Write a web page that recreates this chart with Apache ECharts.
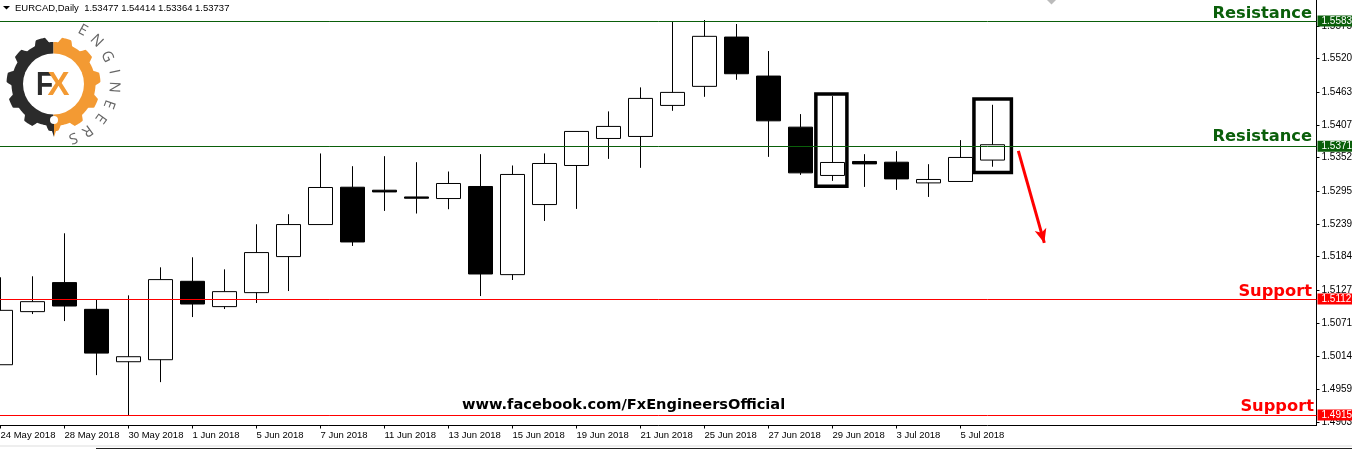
<!DOCTYPE html>
<html><head><meta charset="utf-8">
<style>html,body{margin:0;padding:0;background:#fff;overflow:hidden}#c{width:1352px;height:449px}</style>
<script src="https://cdn.jsdelivr.net/npm/echarts@6/dist/echarts.min.js"></script>
</head><body><div id="c"></div>
<script>
const dates = ['24 May 2018','25 May 2018','28 May 2018','29 May 2018','30 May 2018','31 May 2018','1 Jun 2018','4 Jun 2018','5 Jun 2018','6 Jun 2018','7 Jun 2018','8 Jun 2018','11 Jun 2018','12 Jun 2018','13 Jun 2018','14 Jun 2018','15 Jun 2018','18 Jun 2018','19 Jun 2018','20 Jun 2018','21 Jun 2018','22 Jun 2018','25 Jun 2018','26 Jun 2018','27 Jun 2018','28 Jun 2018','29 Jun 2018','2 Jul 2018','3 Jul 2018','4 Jul 2018','5 Jul 2018','6 Jul 2018'];
const opens  = [1.50008,1.50908,1.51400,1.50947,1.50059,1.50093,1.51422,1.50993,1.51230,1.51841,1.52384,1.53017,1.52966,1.52852,1.52825,1.53029,1.51535,1.52723,1.53385,1.53843,1.53877,1.54403,1.54726,1.55562,1.54901,1.54035,1.53216,1.53453,1.53441,1.53090,1.53114,1.53477];
const closes = [1.50930,1.51077,1.51003,1.50205,1.50144,1.51451,1.51037,1.51247,1.51909,1.52384,1.53012,1.52089,1.52937,1.52830,1.53080,1.51546,1.53233,1.53419,1.53962,1.54047,1.54522,1.54624,1.55574,1.54940,1.54142,1.53260,1.53436,1.53412,1.53158,1.53148,1.53521,1.53737];
const lows   = [1.50008,1.50867,1.50748,1.49832,1.49143,1.49713,1.50816,1.50952,1.51054,1.51257,1.52384,1.52021,1.52615,1.52571,1.52644,1.51172,1.51444,1.52445,1.52649,1.53497,1.53345,1.54312,1.54549,1.54838,1.53531,1.53226,1.53124,1.53022,1.52971,1.52852,1.53114,1.53364];
const highs  = [1.51490,1.51507,1.52236,1.51105,1.51184,1.51659,1.51829,1.51625,1.52389,1.52559,1.53589,1.53373,1.53543,1.53441,1.53283,1.53577,1.53385,1.53589,1.53962,1.54302,1.54709,1.55822,1.55851,1.55783,1.55325,1.54256,1.54561,1.53577,1.53628,1.53407,1.53815,1.54414];
const yTicks = [1.55750,1.55200,1.54630,1.54075,1.53520,1.52950,1.52395,1.51840,1.51270,1.50715,1.50145,1.49590,1.49035];
const xTicks = [0,2,4,6,8,10,12,14,16,18,20,22,24,26,28,30];
const xTickLabels = ['24 May 2018','28 May 2018','30 May 2018','1 Jun 2018','5 Jun 2018','7 Jun 2018','11 Jun 2018','13 Jun 2018','15 Jun 2018','19 Jun 2018','21 Jun 2018','25 Jun 2018','27 Jun 2018','29 Jun 2018','3 Jul 2018','5 Jul 2018'];
const resistanceLevels = [1.55834,1.53712];
const supportLevels = [1.51121,1.49155];
const boxes = [[[25.48,1.54595],[26.45,1.53032]],[[30.42,1.54510],[31.59,1.53265]]];
const arrow = [[31.807,1.53633],[32.619,1.52072]];
const header = 'EURCAD,Daily  1.53477 1.54414 1.53364 1.53737';
const url = 'www.facebook.com/FxEngineersOfficial';
const logoWord = 'ENGINEERS';
const logoAngles = [28.6,45,63,78.5,93,110,126,144,160];
const logoRadii = [61,61,60,61.5,60.5,59,58,57.6,57];

const GREEN='#0a5f0a', RED='#ff0000', FONT='"Liberation Sans",Arial,sans-serif', LOGOX=53.5, LOGOY=84;

function gearPts(from,to){
  const pts=[[LOGOX,LOGOY]], n=11;
  for(let a=from;a<=to+0.001;a+=1){
    const t=((a%(360/n))+360/n)%(360/n)/(360/n);
    const d=Math.min(Math.abs(t-0.5),0.5);
    const r=d<0.18?47:(d>0.3?42:47-(d-0.18)/0.12*5);
    const rad=(a-90)*Math.PI/180;
    pts.push([LOGOX+r*Math.cos(rad),LOGOY+r*Math.sin(rad)]);
  }
  return pts;
}
const logo=[
  {type:'polygon',shape:{points:gearPts(180,360)},style:{fill:'#2b2b2b'}},
  {type:'polygon',shape:{points:gearPts(0,180)},style:{fill:'#f39a33'}},
  {type:'polygon',shape:{points:[[49,122],[54,122],[54,137]]},style:{fill:'#2b2b2b'}},
  {type:'polygon',shape:{points:[[54,122],[59,122],[54,137]]},style:{fill:'#f39a33'}},
  {type:'circle',shape:{cx:LOGOX,cy:LOGOY,r:30.5},style:{fill:'#fff'}},
  {type:'circle',shape:{cx:LOGOX+.5,cy:120,r:4},style:{fill:'#fff'}},
  {type:'text',x:36,y:69,scaleX:.85,style:{text:'F',fill:'#2b2b2b',font:'bold 33px "Liberation Sans"'}},
  {type:'text',x:47.5,y:69,scaleX:1,style:{text:'X',fill:'#f39a33',font:'bold 33px "Liberation Sans"'}}
];
logoWord.split('').forEach((ch,i)=>{
  const a=logoAngles[i]*Math.PI/180, r=logoRadii[i];
  logo.push({type:'text',x:LOGOX+r*Math.sin(a),y:LOGOY-r*Math.cos(a),rotation:-a,
    style:{text:ch,align:'center',verticalAlign:'middle',fill:'#666',font:'15px "Open Sans"'}});
});

const levelLine=(v,color)=>({yAxis:v,lineStyle:{color,width:1,type:'solid'},symbol:'none',
  label:{show:true,position:'end',distance:1,formatter:v.toFixed(5),color:'#fff',backgroundColor:color,
    fontFamily:FONT,fontSize:10,padding:[1,2,0,4],width:34,align:'left',overflow:'none'}});

const chart=echarts.init(document.getElementById('c'),null,{renderer:'canvas'});
chart.setOption({
  animation:false,backgroundColor:'#fff',
  title:{text:header,left:15,top:3,padding:0,textStyle:{fontFamily:FONT,fontSize:9.5,fontWeight:'normal',color:'#000'}},
  grid:{left:0,right:35.5,top:0,bottom:23.5,outerBoundsMode:'none',containLabel:false},
  xAxis:{type:'value',min:-0.015625,max:41.125,splitLine:{show:false},
    axisLine:{onZero:false,lineStyle:{color:'#000',width:1}},
    axisTick:{show:true,length:3,customValues:xTicks,lineStyle:{color:'#000'}},
    axisLabel:{customValues:xTicks,align:'left',margin:5,color:'#000',fontFamily:FONT,fontSize:9.5,hideOverlap:false,
      formatter:v=>xTickLabels[xTicks.indexOf(v)]||''}},
  yAxis:{type:'value',position:'right',min:1.48978,max:1.5619,scale:true,splitLine:{show:false},
    axisLine:{show:true,onZero:false,lineStyle:{color:'#000',width:1}},
    axisTick:{show:true,length:3,customValues:yTicks,lineStyle:{color:'#000'}},
    axisLabel:{customValues:yTicks,margin:5,color:'#000',fontFamily:FONT,fontSize:10,hideOverlap:false,
      formatter:v=>v.toFixed(5)}},
  series:[{type:'candlestick',barWidth:24,clip:true,
    encode:{x:0,y:[1,2,3,4]},
    data:dates.map((d,i)=>[i,opens[i],closes[i],lows[i],highs[i]]),
    itemStyle:{color:'#fff',color0:'#000',borderColor:'#000',borderColor0:'#000',borderWidth:1},
    markLine:{silent:true,animation:false,symbol:'none',precision:5,
      data:[...resistanceLevels.map(v=>levelLine(v,GREEN)),...supportLevels.map(v=>levelLine(v,RED)),
        [{coord:arrow[0],symbol:'none',lineStyle:{color:RED,width:3,type:'solid'}},
         {coord:arrow[1],symbol:'arrow',symbolSize:[9,14]}]]},
    markArea:{silent:true,animation:false,
      itemStyle:{color:'rgba(0,0,0,0)',borderColor:'#000',borderWidth:3.5},
      data:boxes.map(b=>[{coord:b[0]},{coord:b[1]}])}
  }],
  graphic:[
    {type:'polygon',shape:{points:[[3,6],[10,6],[6.5,9.5]]},style:{fill:'#000'}},
    {type:'polygon',shape:{points:[[1047,0],[1056,0],[1051.5,4.5]]},style:{fill:'#bbb'}},
    {type:'text',style:{text:'Resistance',x:1312,y:14,align:'right',verticalAlign:'middle',fill:GREEN,font:'bold 16.3px "DejaVu Sans"'}},
    {type:'text',style:{text:'Resistance',x:1312,y:137,align:'right',verticalAlign:'middle',fill:GREEN,font:'bold 16.3px "DejaVu Sans"'}},
    {type:'text',style:{text:'Support',x:1312,y:291.5,align:'right',verticalAlign:'middle',fill:RED,font:'bold 16.3px "DejaVu Sans"'}},
    {type:'text',style:{text:'Support',x:1314,y:406.5,align:'right',verticalAlign:'middle',fill:RED,font:'bold 16.3px "DejaVu Sans"'}},
    {type:'text',style:{text:url,x:462,y:405,verticalAlign:'middle',fill:'#000',font:'bold 14.6px "DejaVu Sans"'}},
    {type:'line',shape:{x1:0,y1:446,x2:1352,y2:446},style:{stroke:'#ddd',lineWidth:1}},
    {type:'line',shape:{x1:96,y1:448.5,x2:1352,y2:448.5},style:{stroke:'#222',lineWidth:1}},
    ...logo
  ]
});
</script></body></html>
